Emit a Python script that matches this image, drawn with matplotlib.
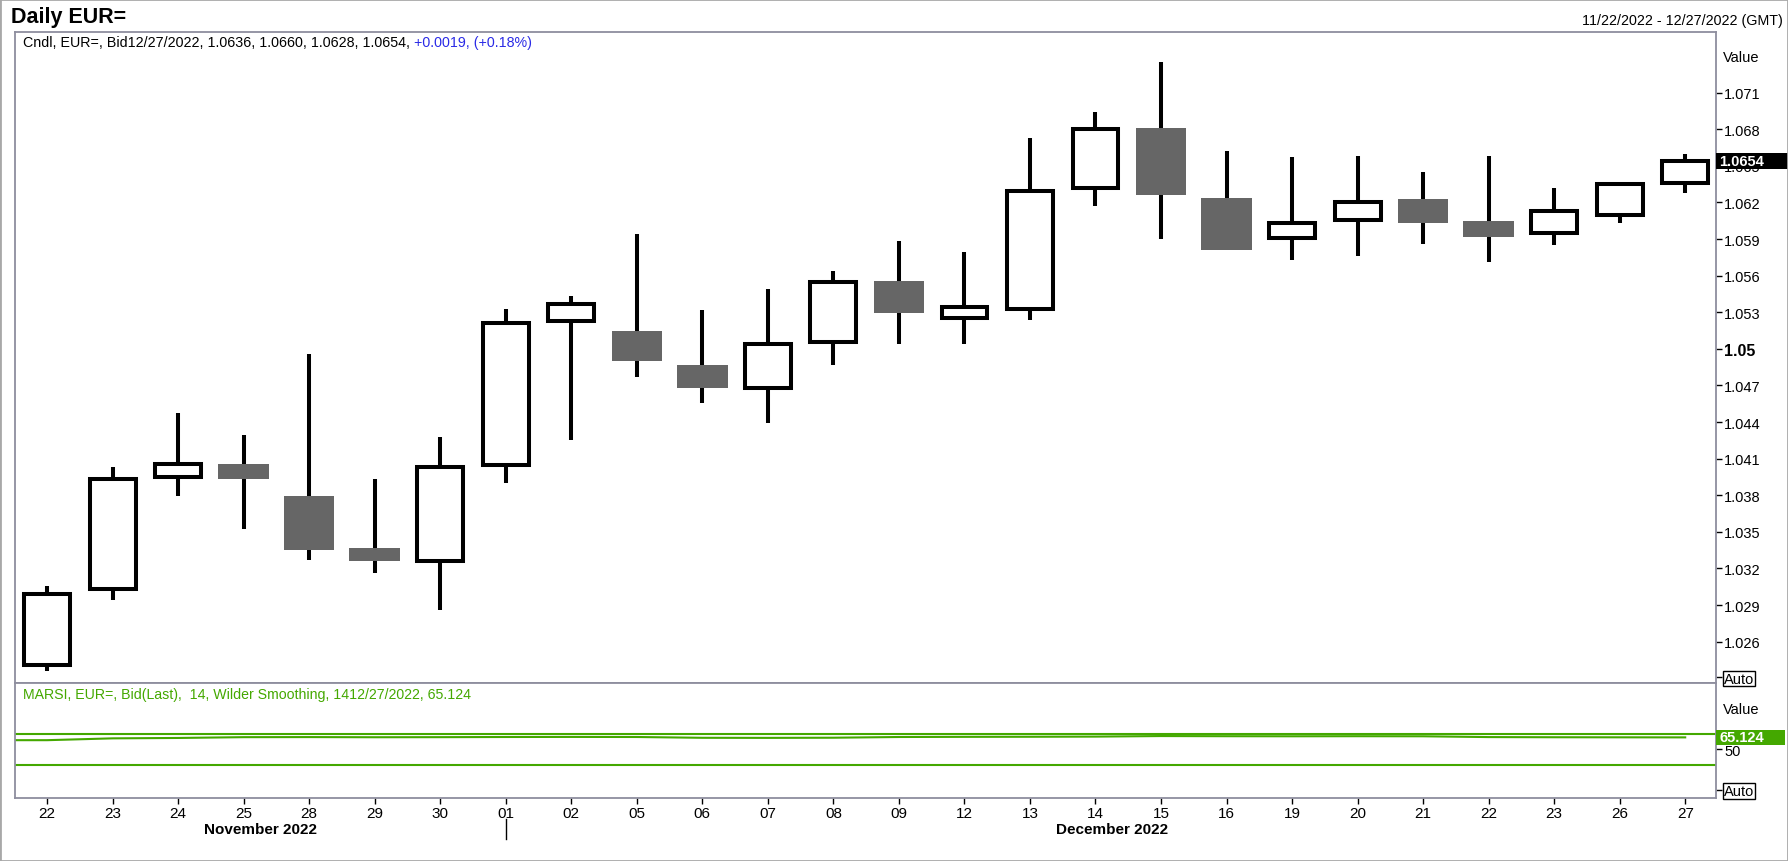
import numpy as np
import matplotlib
matplotlib.use('Agg')
import matplotlib.pyplot as plt
import matplotlib.patches as patches
from matplotlib import font_manager

plt.rcParams['font.family'] = ['Liberation Sans', 'DejaVu Sans']

# daily EUR= bid candles, 22 Nov - 27 Dec 2022
days = ['22', '23', '24', '25', '28', '29', '30', '01', '02', '05', '06', '07', '08',
        '09', '12', '13', '14', '15', '16', '19', '20', '21', '22', '23', '26', '27']
opens = [1.0241, 1.0303, 1.0395, 1.0406, 1.0379, 1.0337, 1.0326, 1.0405, 1.0523,
         1.0515, 1.0487, 1.0468, 1.0506, 1.0556, 1.0525, 1.0533, 1.0632, 1.0681,
         1.0624, 1.0591, 1.0606, 1.0623, 1.0605, 1.0595, 1.0610, 1.0636]
highs = [1.0306, 1.0403, 1.0447, 1.0429, 1.0496, 1.0393, 1.0428, 1.0533, 1.0543,
         1.0594, 1.0532, 1.0549, 1.0564, 1.0588, 1.0579, 1.0673, 1.0694, 1.0735,
         1.0662, 1.0657, 1.0658, 1.0645, 1.0658, 1.0632, 1.0636, 1.0660]
lows = [1.0236, 1.0294, 1.0379, 1.0352, 1.0327, 1.0316, 1.0286, 1.0390, 1.0425,
        1.0477, 1.0456, 1.0439, 1.0487, 1.0504, 1.0504, 1.0524, 1.0617, 1.0590,
        1.0581, 1.0573, 1.0576, 1.0586, 1.0571, 1.0585, 1.0603, 1.0628]
closes = [1.0299, 1.0393, 1.0406, 1.0393, 1.0335, 1.0326, 1.0403, 1.0521, 1.0537,
          1.0490, 1.0468, 1.0504, 1.0555, 1.0529, 1.0534, 1.0629, 1.0680, 1.0626,
          1.0581, 1.0603, 1.0620, 1.0603, 1.0592, 1.0613, 1.0635, 1.0654]
rsi = [61.6, 63.9, 64.4, 65.4, 65.5, 65.3, 65.4, 65.6, 65.7, 65.6, 64.6, 64.5, 64.7,
       65.6, 65.8, 65.9, 66.1, 66.8, 66.6, 66.5, 66.6, 66.5, 65.5, 65.3, 65.2, 65.124]
rsi_levels = [70, 30]
price_ticks = [1.026, 1.029, 1.032, 1.035, 1.038, 1.041, 1.044, 1.047, 1.05,
               1.053, 1.056, 1.059, 1.062, 1.065, 1.068, 1.071]
months = ['November 2022', 'December 2022']
month_start = [0, 7]

W, H = 1788, 862
green = '#44a800'
frame = '#8e8e9e'

installed = {f.name for f in font_manager.fontManager.ttflist}
if 'Liberation Sans Narrow' in installed:
    narrow, day_size = ['Liberation Sans Narrow', 'Liberation Sans'], 12
else:
    narrow, day_size = ['Liberation Sans', 'DejaVu Sans'], 11

fig = plt.figure(figsize=(W / 100, H / 100), dpi=100)
fig.patches.append(patches.Rectangle((0, 0), 1, 1, transform=fig.transFigure,
                                     fill=False, edgecolor='#a8a8a8', lw=2))

left, right = 15, 1716
ax = fig.add_axes([left / W, (H - 684) / H, (right - left) / W, (684 - 33) / H])
ax2 = fig.add_axes([left / W, (H - 799) / H, (right - left) / W, (799 - 684) / H],
                   sharex=ax)

x = np.arange(len(days))
o = np.array(opens)
c = np.array(closes)

# candles
ax.vlines(x, lows, highs, color='black', lw=2.9, zorder=2)
for i in x:
    if c[i] >= o[i]:
        w = 0.70
        ax.add_patch(patches.Rectangle((i - w / 2, o[i]), w, c[i] - o[i],
                                       facecolor='white', edgecolor='black',
                                       lw=2.9, zorder=3))
    else:
        w = 0.77
        ax.add_patch(patches.Rectangle((i - w / 2, c[i]), w, o[i] - c[i],
                                       facecolor='#666666', edgecolor='none',
                                       zorder=3))

ax.set_xlim(-0.49, len(days) - 0.53)
ax.set_ylim(1.02261, 1.07597)

for a in (ax, ax2):
    for s in a.spines.values():
        s.set_color(frame)
        s.set_linewidth(1.3)
    a.yaxis.tick_right()
    a.tick_params(axis='y', direction='out', length=4, width=1, color='black',
                  labelsize=10.5, pad=2)

auto_main = 1.0231
ax.set_yticks(price_ticks + [auto_main],
              labels=[('%.3f' % t).rstrip('0') if t == 1.05 else '%.3f' % t
                      for t in price_ticks] + ['Auto'])
for lab in ax.get_yticklabels():
    if lab.get_text() == '1.05':
        lab.set_fontweight('bold')
        lab.set_fontsize(11.5)
    if lab.get_text() == 'Auto':
        lab.set_bbox(dict(facecolor='white', edgecolor='black', pad=0.6, lw=1))
ax.tick_params(axis='x', bottom=False, labelbottom=False)

ytr = ax.get_yaxis_transform()
ax.text(1.004, 1.0739, 'Value', transform=ytr, fontsize=10.5, va='center', ha='left')
last = closes[-1]
ax.add_patch(patches.Rectangle((1.0, last - 0.00062), 0.0423, 0.00124, transform=ytr,
                               clip_on=False, facecolor='black', edgecolor='none',
                               zorder=6))
ax.text(1.002, last, '%.4f' % last, transform=ytr, color='white', fontsize=10.5,
        fontweight='bold', va='center', ha='left', zorder=7)

t1 = ax.text(0.0047, 0.984, 'Cndl, EUR=, Bid12/27/2022, %.4f, %.4f, %.4f, %.4f, '
             % (opens[-1], highs[-1], lows[-1], closes[-1]),
             transform=ax.transAxes, fontsize=10.3, va='center', ha='left')
chg = closes[-1] - closes[-2]
ax.annotate('%+.4f, (%+.2f%%)' % (chg, chg / closes[-2] * 100), xy=(1, 0),
            xycoords=t1, va='bottom', ha='left', fontsize=10.3, color='#2a2ae6')

# RSI panel
ax2.set_ylim(-11.1, 133.5)
for lv in rsi_levels:
    ax2.axhline(lv, color=green, lw=1.5)
x0 = ax.get_xlim()[0]
ax2.plot(np.r_[x0, x], np.r_[rsi[0], rsi], color=green, lw=1.5)

auto_rsi = -0.5
ax2.set_yticks([50, auto_rsi], labels=['50', 'Auto'])
ax2.get_yticklabels()[1].set_bbox(dict(facecolor='white', edgecolor='black',
                                       pad=0.6, lw=1))
ytr2 = ax2.get_yaxis_transform()
ax2.text(1.004, 101, 'Value', transform=ytr2, fontsize=10.5, va='center', ha='left')
ax2.add_patch(patches.Rectangle((1.0, rsi[-1] - 9.8), 0.0405, 19.6, transform=ytr2,
                                clip_on=False, facecolor=green, edgecolor='none',
                                zorder=6))
ax2.text(1.002, rsi[-1], '%.3f' % rsi[-1], transform=ytr2, color='white',
         fontsize=10.5, fontweight='bold', va='center', ha='left', zorder=7)
ax2.text(0.0047, 0.9, 'MARSI, EUR=, Bid(Last),  14, Wilder Smoothing, 1412/27/2022, %.3f'
         % rsi[-1], transform=ax2.transAxes, fontsize=10.2, color=green,
         va='center', ha='left')

ax2.set_xticks(x, labels=days)
ax2.tick_params(axis='x', direction='out', length=4, width=1, color='black', pad=2)
for lab in ax2.get_xticklabels():
    lab.set_family(narrow)
    lab.set_fontsize(day_size)

# month captions under the day labels
xtr = ax2.get_xaxis_transform()
n = len(days)
bounds = month_start + [n]
for k, name in enumerate(months):
    mid = (bounds[k] + bounds[k + 1] - 1) / 2 + 0.25
    ax2.text(mid, -0.27, name, transform=xtr, family=narrow, fontsize=day_size,
             fontweight='bold', ha='center', va='center')
for ms in month_start[1:]:
    ax2.plot([ms, ms], [-0.18, -0.36], transform=xtr, color='black', lw=1,
             clip_on=False)

fig.text(11 / W, 1 - 18 / H, 'Daily EUR=', fontsize=15.5, fontweight='bold',
         va='center', ha='left')
fig.text(1783 / W, 1 - 21 / H, '11/22/2022 - 12/27/2022 (GMT)', fontsize=10.3,
         va='center', ha='right')

fig.savefig('out.png', dpi=100)
